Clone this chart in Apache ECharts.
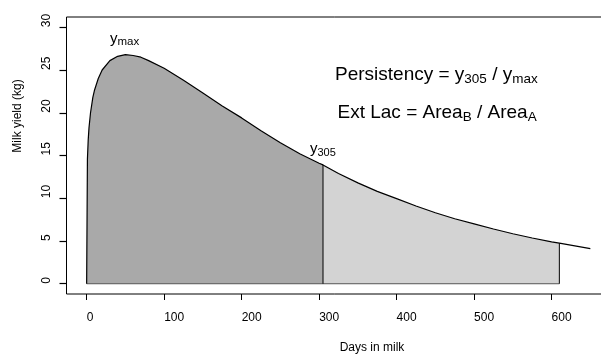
<!DOCTYPE html>
<html>
<head>
<meta charset="utf-8">
<script src="https://cdn.jsdelivr.net/npm/echarts@6/dist/echarts.min.js"></script>
<style>html,body{margin:0;padding:0;background:#fff}#c{width:601px;height:355px}</style>
</head>
<body>
<div id="c"></div>
<script>
// Days in milk and milk yield (kg)
const days = [0, 1, 2, 3, 5, 8, 10, 15, 20, 30, 40, 50, 60, 70, 80, 100, 125, 150, 175, 200, 225, 250, 275, 300, 305, 325, 350, 375, 400, 425, 450, 475, 500, 525, 550, 575, 600, 610, 650];
const yields = [0, 14.6, 16.8, 18.2, 20.0, 21.8, 22.6, 24.0, 25.0, 26.1, 26.6, 26.8, 26.7, 26.5, 26.1, 25.2, 23.8, 22.3, 20.8, 19.4, 17.9, 16.5, 15.2, 14.1, 13.9, 12.9, 11.8, 10.8, 9.95, 9.1, 8.3, 7.6, 7.0, 6.4, 5.85, 5.35, 4.9, 4.75, 4.1];
const areaBounds = [0, 305, 610];  // A: 0..305, B: 305..610
const xTicks = [0, 100, 200, 300, 400, 500, 600];
const yTicks = [0, 5, 10, 15, 20, 25, 30];

const pts = days.map((d, i) => [d, yields[i]]);
const inRange = (a, b) => pts.filter(p => p[0] >= a && p[0] <= b);
const yAt = d => yields[days.indexOf(d)];

const FONT = 'Liberation Sans, Arial, sans-serif';
const chart = echarts.init(document.getElementById('c'));

const option = {
  animation: false,
  backgroundColor: '#fff',
  grid: {left: 66.5, top: 17, width: 544, height: 277, show: true, borderColor: '#000', outerBoundsMode: 'none'},
  xAxis: {
    type: 'value', min: -26, max: 676,
    axisLine: {show: false, onZero: false}, splitLine: {show: false},
    axisTick: {show: true, length: 6, customValues: xTicks, lineStyle: {color: '#000', width: 1}},
    axisLabel: {customValues: xTicks, margin: 18, fontSize: 12, color: '#000', fontFamily: FONT, align: 'left'}
  },
  yAxis: [
    {
      type: 'value', min: -1.2, max: 31.2, position: 'left',
      axisLine: {show: false, onZero: false}, splitLine: {show: false},
      axisTick: {show: false},
      axisLabel: {customValues: yTicks, rotate: 90, margin: 14, fontSize: 12, color: '#000', fontFamily: FONT, align: 'left', verticalAlign: 'bottom'}
    },
    {
      type: 'value', min: -1.2, max: 31.2, position: 'left', offset: 0,
      axisLine: {show: false, onZero: false}, splitLine: {show: false},
      axisTick: {show: true, length: 7, customValues: yTicks, lineStyle: {color: '#000', width: 1.2}},
      axisLabel: {show: false}
    }
  ],
  series: [
    {type: 'line', data: inRange(areaBounds[0], areaBounds[1]), symbol: 'none', lineStyle: {width: 0}, areaStyle: {color: '#a9a9a9', opacity: 1}, z: 1},
    {type: 'line', data: inRange(areaBounds[1], areaBounds[2]), symbol: 'none', lineStyle: {width: 0}, areaStyle: {color: '#d3d3d3', opacity: 1}, z: 1},
    {type: 'line', data: [[areaBounds[0], 0], [areaBounds[2], 0]], symbol: 'none', lineStyle: {color: '#555', width: 1}, z: 2},
    {type: 'line', data: [[areaBounds[1], 0], [areaBounds[1], yAt(areaBounds[1])]], symbol: 'none', lineStyle: {color: '#000', width: 1}, z: 3},
    {type: 'line', data: [[areaBounds[2], 0], [areaBounds[2], yAt(areaBounds[2])]], symbol: 'none', lineStyle: {color: '#000', width: 1}, z: 3},
    {type: 'line', data: pts, symbol: 'none', lineStyle: {color: '#000', width: 1.2}, z: 4},
    {type: 'line', yAxisIndex: 1, data: [], symbol: 'none'}
  ],
  graphic: [
    {type: 'text', x: 18, y: 116, rotation: Math.PI / 2, style: {text: 'Milk yield (kg)', font: '12px ' + FONT, fill: '#000', align: 'center', verticalAlign: 'middle'}},
    {type: 'text', x: 372, y: 348, style: {text: 'Days in milk', font: '12px ' + FONT, fill: '#000', align: 'center', verticalAlign: 'middle'}},
    {type: 'text', x: 169, y: 242, style: {text: 'A', font: '14px ' + FONT, fill: '#000', align: 'center', verticalAlign: 'middle'}},
    {type: 'text', x: 402, y: 242, style: {text: 'B', font: '14px ' + FONT, fill: '#000', align: 'center', verticalAlign: 'middle'}},
    {type: 'text', x: 110, y: 39, style: {text: '{m|y}{s|max}', verticalAlign: 'middle', rich: {m: {fontSize: 15, fontFamily: FONT, lineHeight: 18, verticalAlign: 'middle'}, s: {fontSize: 11.5, fontFamily: FONT, lineHeight: 12, verticalAlign: 'bottom'}}}},
    {type: 'text', x: 310, y: 149, style: {text: '{m|y}{s|305}', verticalAlign: 'middle', rich: {m: {fontSize: 15, fontFamily: FONT, lineHeight: 18, verticalAlign: 'middle'}, s: {fontSize: 11, fontFamily: FONT, lineHeight: 12, verticalAlign: 'bottom'}}}},
    {type: 'text', x: 335, y: 75, style: {text: '{m|Persistency = y}{s|305}{m| / y}{s|max}', verticalAlign: 'middle', rich: {m: {fontSize: 19, fontFamily: FONT, lineHeight: 22, verticalAlign: 'middle'}, s: {fontSize: 13.5, fontFamily: FONT, lineHeight: 14, verticalAlign: 'bottom'}}}},
    {type: 'text', x: 337.5, y: 113, style: {text: '{m|Ext Lac = Area}{s|B}{m| / Area}{s|A}', verticalAlign: 'middle', rich: {m: {fontSize: 19, fontFamily: FONT, lineHeight: 22, verticalAlign: 'middle'}, s: {fontSize: 13.5, fontFamily: FONT, lineHeight: 14, verticalAlign: 'bottom'}}}}
  ]
};
chart.setOption(option);
</script>
</body>
</html>
